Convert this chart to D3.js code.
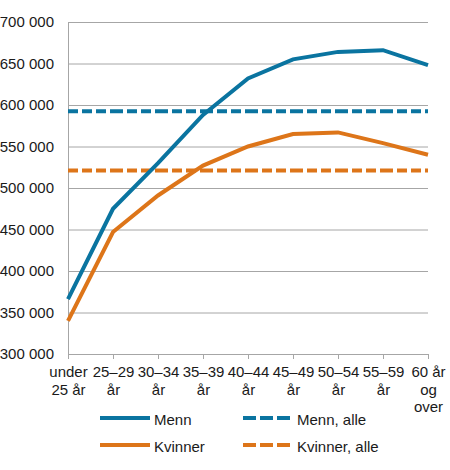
<!doctype html>
<html lang="no">
<head>
    <meta charset="UTF-8">
    <title>lonn-alder</title>
    <style>
        body { margin: 0; background: #fff; }
        text { font-family: "Liberation Sans", Arial, sans-serif; font-size: 15px; fill: #1a1a1a; }
        .grid line { stroke: #a6a6a6; stroke-width: 1px; }
        .grid .domain { stroke: #a6a6a6; }
        .xaxis line, .xaxis .domain { stroke: #a6a6a6; }
        .line { fill: none; stroke-width: 4px; }
    </style>
</head>
<body>

<svg width="450" height="470"></svg>

<script src="https://d3js.org/d3.v7.min.js"></script>
<script>
  // aldersgrupper (tekst delt i linjer slik som i figuren)
  const categories = ['u25', '25-29', '30-34', '35-39', '40-44', '45-49', '50-54', '55-59', '60+']
  const categoryLabels = [
    ['under', '25 år'], ['25–29', 'år'], ['30–34', 'år'], ['35–39', 'år'],
    ['40–44', 'år'], ['45–49', 'år'], ['50–54', 'år'], ['55–59', 'år'], ['60 år', 'og', 'over']
  ]
  const menn = [366000, 475000, 530000, 588000, 632000, 655000, 664000, 666000, 648000]
  const kvinner = [340000, 447000, 491000, 527000, 550000, 565000, 567000, 554000, 540000]
  const mennAlle = 592500
  const kvinnerAlle = 521000
  const yTicks = [300000, 350000, 400000, 450000, 500000, 550000, 600000, 650000, 700000]

  const blue = '#0a74a0'
  const orange = '#dd7519'

  const svg = d3.select('svg')
  const mLeft = 68, mRight = 428, mTop = 22, mBottom = 354

  const x = d3.scalePoint().domain(categories).range([mLeft, mRight])
  const y = d3.scaleLinear().domain([300000, 700000]).range([mBottom, mTop])

  const fmt = d3.formatLocale({ decimal: ',', thousands: ' ', grouping: [3], currency: ['', ''] }).format(',d')

  // rutenett + y-akse
  svg.append('g')
    .attr('class', 'grid')
    .attr('transform', `translate(${mLeft},0)`)
    .call(d3.axisLeft(y).tickValues(yTicks).tickFormat(fmt)
      .tickSizeInner(-(mRight - mLeft)).tickSizeOuter(0).tickPadding(14))
    .call(g => g.selectAll('text').style('font-size', '15px').attr('fill', '#1a1a1a'))

  // x-akse med egne etiketter
  const xg = svg.append('g')
    .attr('class', 'xaxis')
    .attr('transform', `translate(0,${mBottom})`)
    .call(d3.axisBottom(x).tickSizeInner(5).tickSizeOuter(0).tickFormat(''))

  xg.selectAll('.tick').each(function (d, i) {
    const t = d3.select(this).append('text')
      .attr('text-anchor', 'middle')
      .attr('fill', '#1a1a1a')
    categoryLabels[i].forEach((s, j) => {
      t.append('tspan').attr('x', 0).attr('y', 23 + j * 17.5).text(s)
    })
  })

  // gjennomsnitt, stiplet (tegnes per segment)
  function dashed(value, color) {
    const segs = d3.pairs(categories)
    svg.append('g').selectAll('line')
      .data(segs)
      .enter()
      .append('line')
      .attr('x1', d => x(d[0]))
      .attr('x2', d => x(d[1]))
      .attr('y1', y(value))
      .attr('y2', y(value))
      .attr('stroke', color)
      .attr('stroke-width', 4)
      .attr('stroke-dasharray', '10,4')
  }
  dashed(mennAlle, blue)
  dashed(kvinnerAlle, orange)

  const line = d3.line()
    .x((d, i) => x(categories[i]))
    .y(d => y(d))

  svg.append('path').attr('class', 'line').attr('d', line(kvinner)).attr('stroke', orange)
  svg.append('path').attr('class', 'line').attr('d', line(menn)).attr('stroke', blue)

  // forklaring
  const legend = [
    { name: 'Menn', color: blue, dash: null, x: 100, y: 418 },
    { name: 'Menn, alle', color: blue, dash: '13,4', x: 243, y: 418 },
    { name: 'Kvinner', color: orange, dash: null, x: 100, y: 445 },
    { name: 'Kvinner, alle', color: orange, dash: '13,4', x: 243, y: 445 }
  ]
  const lg = svg.append('g').selectAll('g').data(legend).enter().append('g')
  lg.append('line')
    .attr('x1', d => d.x).attr('x2', d => d.x + 50)
    .attr('y1', d => d.y).attr('y2', d => d.y)
    .attr('stroke', d => d.color)
    .attr('stroke-width', 4)
    .attr('stroke-dasharray', d => d.dash)
  lg.append('text')
    .attr('x', d => d.x + 54)
    .attr('y', d => d.y + 7)
    .text(d => d.name)
</script>
</body>
</html>
